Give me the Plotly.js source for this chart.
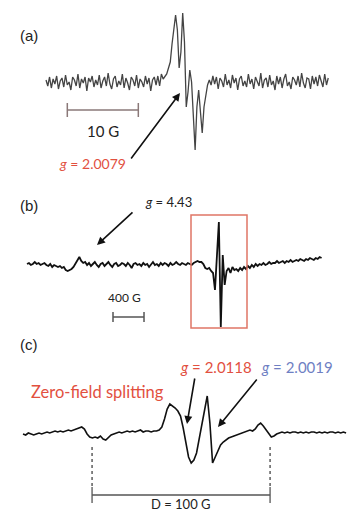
<!DOCTYPE html>
<html>
<head>
<meta charset="utf-8">
<script src="https://cdn.plot.ly/plotly-3.0.1.min.js"></script>
<style>html,body{margin:0;padding:0;background:#fff;}#chart{width:347px;height:513px;}</style>
</head>
<body>
<div id="chart"></div>
<script>
// ---------- Panel (a): narrow sweep around g = 2.0079 (field in G, intensity arb. units)
const A_START = 3325.3;   // G
const A_STEP = 0.25;      // G per sample
const intensityA = [
  2,-4,5,-6,3,-2,6,-7,1,4,
  -5,7,-3,0,-8,5,2,-4,8,-6,
  3,-1,5,-9,4,0,6,-5,2,-3,
  7,-6,1,5,-4,9,-2,-7,3,6,
  -5,1,-3,8,-6,4,-1,-8,5,2,
  -4,7,-6,3,0,-5,6,-2,4,-9,
  2,5,-3,6,-4,8,3,
  5,8,14,20,38,55,67,52,14,30,
  69,40,-25,-10,12,0,-40,-68,-25,-8,
  -30,-51,-25,-14,-3,2,
  -3,6,-2,5,-7,4,1,-5,8,-3,
  2,-6,7,-1,4,-8,3,6,-4,1,
  -5,8,-2,3,-7,5,0,-4,9,-6,
  2,4,-5,7,-3,1,-8,6,-2,5,
  -6,3,8,-4,0,-7,5,2,-3,6,
  -5,9,-1,-6,4,3,-7,6,-2,5,
  -4,7,1,-5,8,-3,4
];

// ---------- Panel (b): wide sweep (g = 4.43 and g ≈ 2 region)
const B_START = 880;      // G
const B_STEP = 25;        // G per sample
const intensityB = [
  1,2,0,1,3,1,2,0,1,2,
  0,-1,1,-2,0,-1,-2,-1,-3,-2,
  -5,-6,-5,-4,-2,1,5,8,4,2,
  3,0,2,-1,1,3,0,-2,1,2,
  -1,1,3,0,-2,1,2,-1,0,2,
  1,-1,2,0,-3,1,2,0,1,-1,
  2,0,1,-2,1,3,0,1,-1,2,
  0,2,1,-1,2,0,1,3,1,0,
  2,1,0,2,1,0,2,3,4,3,
  3,1,-3,-4,-3,-6,-8,-25,12,43,
  -62,10,-20,-6,-3,-8,-2,-5,-4,-6,
  -3,-5,-2,-4,-1,-3,0,-2,1,-1,
  1,0,2,0,1,3,1,2,2,4,
  2,3,4,2,4,3,5,3,4,5,
  4,6,5,4,6,5,7,6,5,7,
  6,8,7
];

// ---------- Panel (c): zero-field splitting spectrum
const C_START = 3249.5;   // G
const C_STEP = 1.5;       // G per sample
const intensityC = [
  -1,-2,0,-1,-2,-1,0,-1,0,1,
  0,1,2,1,2,1,2,3,2,3,
  4,5,6,4,-1,-4,-5,-4,-5,-3,
  -6,-7,-4,-2,-1,0,1,0,1,2,
  1,2,1,2,3,1,2,2,1,2,
  2,3,6,14,24,29,27,25,22,17,
  5,-10,-24,-30,-27,-20,-6,8,24,37,
  10,-30,-24,-17,-12,-9,-7,-5,-4,-3,
  -2,-1,0,1,2,3,2,4,8,10,
  7,3,-1,-4,-3,-1,0,1,0,1,
  0,1,1,0,1,0,1,0,1,1,
  0,1,0,1,0,1,1,0,1,0,
  1,0
];

// text labels
const panelLabels = ['(a)', '(b)', '(c)'];
const gA = '<i>g</i> = 2.0079';
const gB = '<i>g</i> = 4.43';
const gC1 = '<i>g</i> = 2.0118';
const gC2 = '<i>g</i> = 2.0019';
const zfsLabel = 'Zero-field splitting';
const scaleA = 10, scaleB = 400, scaleC = 100; // G
const scaleALabel = '10 G', scaleBLabel = '400 G', scaleCLabel = 'D = 100 G';

// sampling grids (instrument field axis)
const fieldA = intensityA.map((_, i) => A_START + i * A_STEP);
const fieldB = intensityB.map((_, i) => B_START + i * B_STEP);
const fieldC = intensityC.map((_, i) => C_START + i * C_STEP);

const RED = '#e2503f', BLUE = '#6f7fc3', FONT = 'Lato, "Open Sans", sans-serif';

const traces = [
  {x: fieldA, y: intensityA, xaxis: 'x', yaxis: 'y', mode: 'lines', line: {color: '#444', width: 1.3}},
  {x: fieldB, y: intensityB, xaxis: 'x2', yaxis: 'y2', mode: 'lines', line: {color: '#111', width: 1.8}},
  {x: fieldC, y: intensityC, xaxis: 'x3', yaxis: 'y3', mode: 'lines', line: {color: '#111', width: 1.6}}
];

const hid = {visible: false, fixedrange: true};
const layout = {
  width: 347, height: 513,
  margin: {l: 0, r: 0, t: 0, b: 0},
  paper_bgcolor: '#ffffff', plot_bgcolor: 'rgba(0,0,0,0)',
  showlegend: false,
  xaxis: Object.assign({domain: [0, 1], range: [3318.82, 3367.69], anchor: 'y'}, hid),
  yaxis: Object.assign({domain: [0.65887, 1], range: [-93, 82], anchor: 'x'}, hid),
  xaxis2: Object.assign({domain: [0, 1], range: [531.7, 5008], anchor: 'y2'}, hid),
  yaxis2: Object.assign({domain: [0.33723, 0.65887], range: [-75, 90], anchor: 'x2'}, hid),
  xaxis3: Object.assign({domain: [0, 1], range: [3236.58, 3431.52], anchor: 'y3'}, hid),
  yaxis3: Object.assign({domain: [0, 0.33723], range: [-80, 93], anchor: 'x3'}, hid),
  shapes: [
    // (a) scale bar
    {type: 'line', xref: 'x', yref: 'y', x0: 3328.3, x1: 3328.3 + scaleA, y0: -28, y1: -28, line: {color: '#8a7878', width: 1.5}},
    {type: 'line', xref: 'x', yref: 'y', x0: 3328.3, x1: 3328.3, y0: -21, y1: -35, line: {color: '#8a7878', width: 1.5}},
    {type: 'line', xref: 'x', yref: 'y', x0: 3328.3 + scaleA, x1: 3328.3 + scaleA, y0: -21, y1: -35, line: {color: '#8a7878', width: 1.5}},
    // (b) red box
    {type: 'rect', xref: 'x2', yref: 'y2', x0: 2995.6, x1: 3718, y0: -63, y1: 50, line: {color: '#e07565', width: 1.5}},
    // (b) scale bar
    {type: 'line', xref: 'x2', yref: 'y2', x0: 1989.4, x1: 1989.4 + scaleB, y0: -52, y1: -52, line: {color: '#555', width: 1.5}},
    {type: 'line', xref: 'x2', yref: 'y2', x0: 1989.4, x1: 1989.4, y0: -47, y1: -57, line: {color: '#555', width: 1.5}},
    {type: 'line', xref: 'x2', yref: 'y2', x0: 1989.4 + scaleB, x1: 1989.4 + scaleB, y0: -47, y1: -57, line: {color: '#555', width: 1.5}},
    // (c) dashed markers and D bar
    {type: 'line', xref: 'x3', yref: 'y3', x0: 3288.3, x1: 3288.3, y0: -14, y1: -54, line: {color: '#444', width: 1.3, dash: 'dot'}},
    {type: 'line', xref: 'x3', yref: 'y3', x0: 3288.3 + scaleC, x1: 3288.3 + scaleC, y0: -14, y1: -54, line: {color: '#444', width: 1.3, dash: 'dot'}},
    {type: 'line', xref: 'x3', yref: 'y3', x0: 3288.3, x1: 3288.3 + scaleC, y0: -62, y1: -62, line: {color: '#555', width: 1.3}},
    {type: 'line', xref: 'x3', yref: 'y3', x0: 3288.3, x1: 3288.3, y0: -54, y1: -70, line: {color: '#555', width: 1.3}},
    {type: 'line', xref: 'x3', yref: 'y3', x0: 3288.3 + scaleC, x1: 3288.3 + scaleC, y0: -54, y1: -70, line: {color: '#555', width: 1.3}}
  ],
  annotations: [
    // panel labels
    {xref: 'paper', yref: 'paper', x: 0.052, y: 1 - 25/513, text: panelLabels[0], showarrow: false, font: {family: 'Liberation Sans, Arial', size: 15, color: '#222'}},
    {xref: 'paper', yref: 'paper', x: 0.052, y: 1 - 205/513, text: panelLabels[1], showarrow: false, font: {family: 'Liberation Sans, Arial', size: 15, color: '#222'}},
    {xref: 'paper', yref: 'paper', x: 0.052, y: 1 - 355/513, text: panelLabels[2], showarrow: false, font: {family: 'Liberation Sans, Arial', size: 15, color: '#222'}},
    // (a)
    {xref: 'x', yref: 'y', x: 3333.3, y: -49, text: scaleALabel, showarrow: false, font: {family: FONT, size: 15, color: '#222'}},
    {xref: 'x', yref: 'y', x: 3344.17, y: -11, ax: -50, ay: 67, text: '', showarrow: true, arrowhead: 2, arrowsize: 1, arrowwidth: 1.6, arrowcolor: '#111'},
    {xref: 'x', yref: 'y', x: 3331.8, y: -81, text: gA, showarrow: false, font: {family: FONT, size: 14, color: RED}},
    // (b)
    {xref: 'x2', yref: 'y2', x: 2144, y: -33, text: scaleBLabel, showarrow: false, font: {family: FONT, size: 12, color: '#222'}},
    {xref: 'x2', yref: 'y2', x: 1783, y: 20, ax: 37, ay: -34, text: '', showarrow: true, arrowhead: 2, arrowsize: 1, arrowwidth: 1.6, arrowcolor: '#111'},
    {xref: 'x2', yref: 'y2', x: 2699, y: 63, text: gB, showarrow: false, font: {family: FONT, size: 13, color: '#222'}},
    // (c)
    {xref: 'x3', yref: 'y3', x: 3291.1, y: 41, text: zfsLabel, showarrow: false, font: {family: FONT, size: 16.5, color: RED}},
    {xref: 'x3', yref: 'y3', x: 3357.9, y: 66, text: gC1, showarrow: false, font: {family: FONT, size: 15, color: RED}},
    {xref: 'x3', yref: 'y3', x: 3403.4, y: 66, text: gC2, showarrow: false, font: {family: FONT, size: 15, color: BLUE}},
    {xref: 'x3', yref: 'y3', x: 3341.63, y: 9, ax: 8, ay: -47, text: '', showarrow: true, arrowhead: 2, arrowsize: 1, arrowwidth: 1.6, arrowcolor: '#111'},
    {xref: 'x3', yref: 'y3', x: 3359.05, y: 6, ax: 40, ay: -49, text: '', showarrow: true, arrowhead: 2, arrowsize: 1, arrowwidth: 1.6, arrowcolor: '#111'},
    {xref: 'x3', yref: 'y3', x: 3338.3, y: -80, yanchor: 'bottom', borderpad: 0, text: scaleCLabel, showarrow: false, font: {family: FONT, size: 13, color: '#222'}}
  ]
};

Plotly.newPlot('chart', traces, layout, {staticPlot: true, displayModeBar: false});
</script>
</body>
</html>
